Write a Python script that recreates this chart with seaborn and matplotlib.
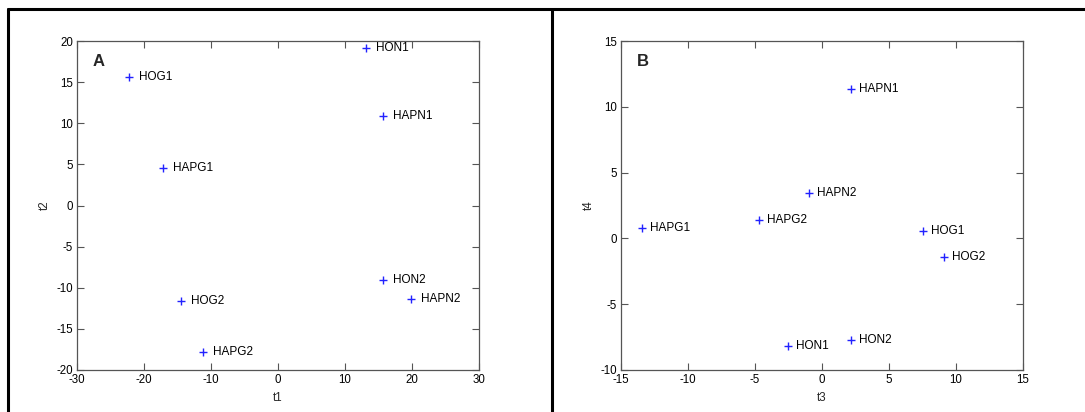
import matplotlib
matplotlib.use("Agg")
import matplotlib.pyplot as plt
from matplotlib.lines import Line2D
import seaborn as sns
import pandas as pd

# Score plot A: first two components
labels_a = ["HOG1", "HAPG1", "HOG2", "HAPG2", "HON1", "HAPN1", "HON2", "HAPN2"]
t1 = [-22.3, -17.2, -14.5, -11.2, 13.1, 15.7, 15.6, 19.9]
t2 = [15.6, 4.5, -11.6, -17.8, 19.1, 10.9, -9.0, -11.4]

# Score plot B: third and fourth components
labels_b = ["HAPG1", "HAPG2", "HAPN2", "HAPN1", "HOG1", "HOG2", "HON1", "HON2"]
t3 = [-13.4, -4.7, -1.0, 2.2, 7.5, 9.1, -2.55, 2.15]
t4 = [0.78, 1.4, 3.45, 11.35, 0.6, -1.45, -8.2, -7.7]

sns.set_theme(style="white")
plt.rcParams["font.family"] = ["Liberation Sans", "DejaVu Sans"]

fig = plt.figure(figsize=(10.85, 4.12), dpi=100)
fig.patch.set_facecolor("white")

W, H = 1085, 412


def make_axes(left_px, right_px, top_px, bottom_px):
    return fig.add_axes([left_px / W, 1 - bottom_px / H,
                         (right_px - left_px) / W, (bottom_px - top_px) / H])


def draw_panel(ax, x, y, names, xlim, ylim, xticks, yticks, xlabel, ylabel,
               letter, text_dx):
    df = pd.DataFrame({"x": x, "y": y, "name": names})
    sns.scatterplot(data=df, x="x", y="y", ax=ax, marker="+", color="#2222ff",
                    s=40, linewidth=1.0, legend=False, zorder=3)
    for _, r in df.iterrows():
        ax.annotate(r["name"], (r["x"], r["y"]), xytext=(text_dx, 0),
                    textcoords="offset pixels", va="center", ha="left",
                    fontsize=8.5, color="black")
    ax.set_xlim(*xlim)
    ax.set_ylim(*ylim)
    ax.set_xticks(xticks)
    ax.set_yticks(yticks)
    ax.set_xticklabels([str(v) for v in xticks])
    ax.set_yticklabels([str(v) for v in yticks])
    ax.tick_params(direction="in", length=5, width=0.8, color="#555555",
                   labelsize=8.3, labelcolor="black", top=True, right=True,
                   bottom=True, left=True, pad=3)
    for s in ax.spines.values():
        s.set_color("#555555")
        s.set_linewidth(0.9)
    ax.set_xlabel(xlabel, fontsize=8.3, labelpad=4)
    ax.set_ylabel(ylabel, fontsize=8.3, labelpad=4)
    ax.text(0.039, 0.962, letter, transform=ax.transAxes, fontsize=12,
            fontweight="bold", va="top", ha="left")


ax_a = make_axes(77, 479, 41, 370)
draw_panel(ax_a, t1, t2, labels_a, (-30, 30), (-20, 20),
           list(range(-30, 31, 10)), list(range(-20, 21, 5)),
           "t1", "t2", "A", 10)

ax_b = make_axes(621, 1023, 41, 370)
draw_panel(ax_b, t3, t4, labels_b, (-15, 15), (-10, 15),
           list(range(-15, 16, 5)), list(range(-10, 16, 5)),
           "t3", "t4", "B", 8)

# Frame around the two panels
border_kw = dict(color="black", linewidth=2.2, transform=fig.transFigure)
fig.add_artist(Line2D([7.5 / W, 1.0], [1 - 9 / H, 1 - 9 / H], **border_kw))
fig.add_artist(Line2D([7.5 / W, 7.5 / W], [0, 1 - 9 / H], **border_kw))
fig.add_artist(Line2D([552 / W, 552 / W], [0, 1 - 9 / H], **border_kw))

fig.savefig("out.png", dpi=100, facecolor="white")
